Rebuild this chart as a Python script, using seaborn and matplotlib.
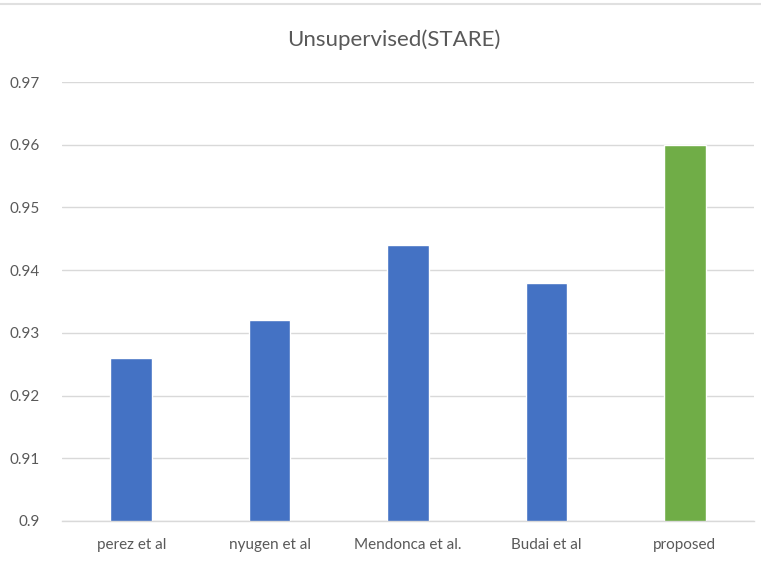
import matplotlib
matplotlib.use("Agg")
import matplotlib.pyplot as plt
import seaborn as sns
import pandas as pd
from matplotlib import font_manager
from matplotlib.lines import Line2D

categories = ["perez et al", "nyugen et al", "Mendonca et al.", "Budai et al", "proposed"]
values = [0.926, 0.932, 0.944, 0.938, 0.960]
bar_colors = ["#4472C4", "#4472C4", "#4472C4", "#4472C4", "#70AD47"]
y_ticks = [0.9, 0.91, 0.92, 0.93, 0.94, 0.95, 0.96, 0.97]
y_tick_labels = ["0.9", "0.91", "0.92", "0.93", "0.94", "0.95", "0.96", "0.97"]

sns.set_theme(style="white")
installed = {f.name for f in font_manager.fontManager.ttflist}
family = "Liberation Sans Narrow" if "Liberation Sans Narrow" in installed else "Lato"
plt.rcParams["font.family"] = [family, "DejaVu Sans"]

df = pd.DataFrame({"method": categories, "score": values})

fig = plt.figure(figsize=(7.61, 5.67), dpi=100)
ax = fig.add_axes([62 / 761, 1 - 521 / 567, (754 - 62) / 761, (521 - 82) / 567])

sns.barplot(data=df, x="method", y="score", hue="method", palette=bar_colors,
            width=0.3, legend=False, ax=ax, saturation=1)

ax.set_ylim(0.9, 0.97)
ax.set_xlim(-0.5, len(categories) - 0.5)
ax.set_yticks(y_ticks)
ax.set_yticklabels(y_tick_labels)
ax.yaxis.grid(True, color="#d9d9d9", linewidth=1)
ax.set_axisbelow(True)
for side in ["top", "right", "left"]:
    ax.spines[side].set_visible(False)
ax.spines["bottom"].set_color("#d9d9d9")
ax.spines["bottom"].set_linewidth(1)
ax.tick_params(axis="both", length=0, colors="#595959", labelsize=11)
ax.tick_params(axis="x", pad=12)
ax.tick_params(axis="y", pad=16)
ax.set_xlabel("")
ax.set_ylabel("")

fig.text(0.5175, 1 - 40 / 567, "Unsupervised(STARE)", ha="center", va="center",
         fontsize=16, color="#595959")

# thin border along the top edge
fig.add_artist(Line2D([0.0, 1.0], [1 - 4 / 567, 1 - 4 / 567], transform=fig.transFigure,
                      color="#e0e0e0", linewidth=1.5))

fig.savefig("out.png", dpi=100)
